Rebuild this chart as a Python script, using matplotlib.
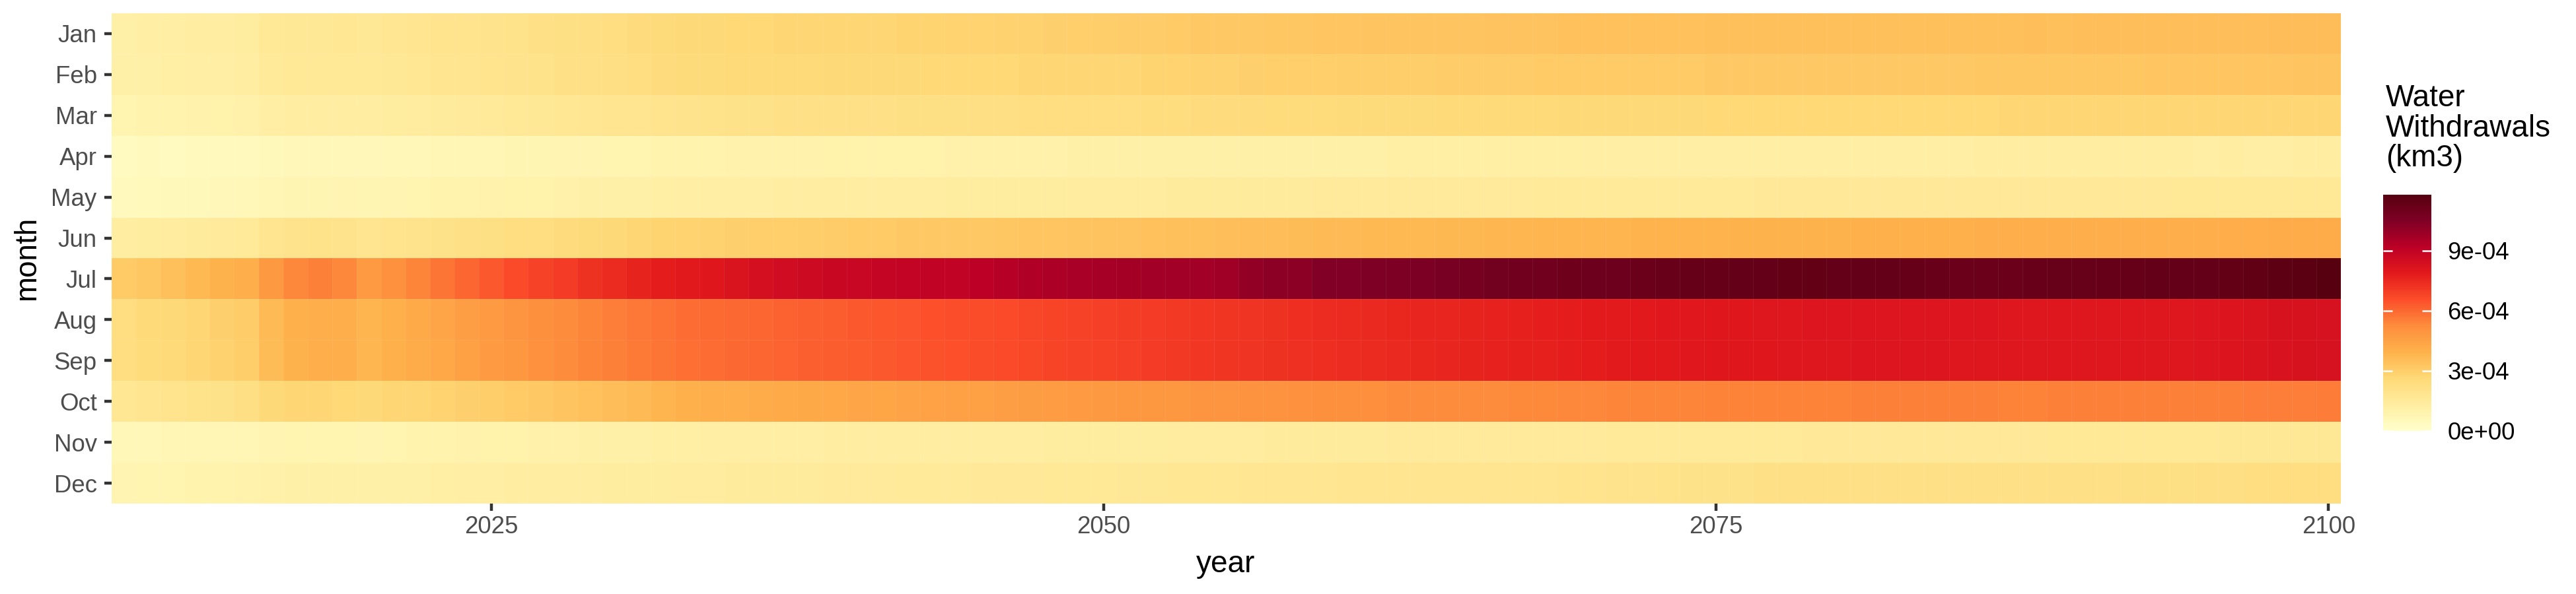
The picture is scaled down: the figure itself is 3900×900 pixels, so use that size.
import numpy as np
import matplotlib
matplotlib.use("Agg")
import matplotlib.pyplot as plt
from matplotlib.colors import LinearSegmentedColormap, Normalize

plt.rcParams['font.family'] = ['Liberation Sans', 'DejaVu Sans']

years = np.arange(2010, 2101)
months = ['Jan', 'Feb', 'Mar', 'Apr', 'May', 'Jun',
          'Jul', 'Aug', 'Sep', 'Oct', 'Nov', 'Dec']

# monthly water withdrawals per year, in 1e-5 km3 (rows: 2010-2032, 2033-2054, 2055-2077, 2078-2100)
jan = [11.5, 12, 12.3, 12.8, 13, 13.5, 16.5, 17, 17, 17.5, 17, 17.8, 18.3, 19, 19.2, 19.5, 20, 21, 22, 22.5, 23.5, 24, 25,
       26, 26.2, 26.4, 26.6, 26.8, 27, 27.2, 27.4, 27.6, 27.8, 28, 28.2, 28.4, 28.6, 29, 29.4, 29.8, 30.2, 30.5, 30.8, 31.2, 31.6,
       32, 32.2, 32.4, 32.6, 32.8, 33, 33.2, 33.3, 33.4, 33.5, 33.6, 33.8, 34, 34, 34.2, 34.2, 34.3, 34.4, 34.4, 34.5, 34.6, 34.6, 34.7,
       34.8, 34.8, 34.7, 34.8, 34.9, 34.8, 34.9, 35, 34.9, 35, 35.1, 35, 35.1, 35.2, 35.1, 35.2, 35.3, 35.2, 35.3, 35.4, 35.5, 35.5, 35.6]
feb = [11, 11.2, 11.6, 12, 12.3, 13, 15.5, 16.3, 16.3, 16.5, 16.3, 17, 17.5, 18, 18.3, 19, 19.5, 20, 21, 21.5, 22.5, 23.3, 24,
       25, 25.2, 25.4, 25.5, 25.6, 25.8, 26, 26, 26.1, 26.2, 26.3, 26.4, 26.5, 26.6, 26.8, 27, 27.2, 27.4, 27.6, 27.9, 28.2, 28.6,
       29, 29.3, 29.5, 29.7, 29.9, 30.1, 30.2, 30.3, 30.4, 30.5, 30.6, 30.7, 30.8, 30.9, 31, 31, 31.1, 31.2, 31.3, 31.3, 31.4, 31.5, 31.5,
       31.6, 31.7, 31.8, 31.9, 32, 32, 32.1, 32.2, 32.3, 32.3, 32.4, 32.5, 32.5, 32.6, 32.7, 32.8, 32.8, 32.9, 33, 33, 33.1, 33.2, 33.3]
mar = [8.5, 9, 9.2, 9.6, 10, 10.5, 12, 12.8, 12.8, 13.2, 12.8, 13.4, 14, 14.6, 15, 15.5, 16.2, 16.6, 17.2, 17.7, 18.2, 18.8, 19.3,
       19.8, 20.1, 20.4, 20.6, 20.8, 21, 21.2, 21.4, 21.6, 21.8, 22, 22.1, 22.2, 22.4, 22.6, 22.8, 23, 23.2, 23.4, 23.6, 23.8, 24,
       24.2, 24.4, 24.6, 24.7, 24.8, 25, 25.1, 25.2, 25.3, 25.4, 25.5, 25.6, 25.7, 25.8, 25.9, 26, 26, 26.1, 26.2, 26.2, 26.3, 26.3, 26.4,
       26.4, 26.5, 26.5, 26.6, 26.6, 26.6, 26.7, 26.7, 26.7, 26.8, 26.8, 26.8, 26.9, 26.9, 26.9, 27, 27, 27, 27.1, 27.1, 27.1, 27.2, 27.2]
apr = [4, 4.2, 4, 4.2, 4.3, 4.6, 5.5, 5.7, 5.7, 5.9, 5.7, 6.2, 6.4, 6.6, 6.9, 7.1, 7.4, 7.6, 7.9, 8.2, 8.5, 8.7, 9,
       9, 9.2, 9.3, 9.4, 9.5, 9.6, 9.7, 9.8, 9.9, 10, 10.1, 10.2, 10.3, 10.4, 10.5, 10.6, 10.7, 10.8, 10.9, 11, 11.1, 11.2,
       11.2, 11.3, 11.3, 11.4, 11.4, 11.5, 11.5, 11.6, 11.6, 11.7, 11.7, 11.8, 11.8, 11.9, 11.9, 12, 12, 12, 12.1, 12.1, 12.1, 12.2, 12.2,
       12.2, 12.3, 12.3, 12.3, 12.4, 12.4, 12.4, 12.4, 12.5, 12.5, 12.5, 12.5, 12.6, 12.6, 12.6, 12.6, 12.6, 12.4, 12.5, 12.2, 12.2, 12.8, 12.9]
may = [4.5, 4.7, 5.3, 5.5, 5.8, 6.2, 7.3, 7.6, 7.6, 8, 7.6, 8.2, 8.5, 8.8, 9.1, 9.4, 9.8, 10.1, 10.5, 10.8, 11.1, 11.4, 11.7,
       12, 12.1, 12.3, 12.4, 12.5, 12.7, 12.8, 12.9, 13, 13.1, 13.3, 13.4, 13.5, 13.6, 13.7, 13.8, 13.9, 14, 14.1, 14.2, 14.3, 14.4,
       14.5, 14.6, 14.6, 14.7, 14.8, 14.8, 14.9, 15, 15, 15.1, 15.1, 15.2, 15.2, 15.3, 15.3, 15.4, 15.4, 15.5, 15.5, 15.6, 15.6, 15.6, 15.7,
       15.7, 15.7, 15.8, 15.8, 15.8, 15.9, 15.9, 15.9, 16, 16, 16, 16, 16.1, 16.1, 16.1, 16.1, 16.2, 16.2, 16.2, 16.2, 16.2, 16.3, 16.3]
jun = [13.2, 13.8, 14, 14.6, 15, 15.5, 18.8, 19.5, 20, 19.5, 18.4, 19, 19.6, 20.7, 21.3, 22, 22.8, 23.5, 24.2, 25, 26, 26.8, 27.7,
       28.3, 28.7, 29.1, 29.5, 29.9, 30.3, 30.6, 30.9, 31.2, 31.5, 31.8, 32, 32.2, 32.5, 32.8, 33.1, 33.4, 33.7, 34, 34.3, 34.6, 35,
       35.3, 35.6, 35.9, 36.2, 36.5, 36.7, 36.9, 37.1, 37.3, 37.5, 37.7, 37.9, 38.1, 38.3, 38.5, 38.6, 38.7, 38.8, 38.9, 39, 39.1, 39.2, 39.3,
       39.4, 39.5, 39.6, 39.7, 39.8, 39.9, 40, 40.1, 40.2, 40.2, 40.3, 40.4, 40.5, 40.6, 40.7, 40.8, 40.9, 41, 41.1, 41.3, 41.5, 41.6, 41.7]
jul = [31, 32.5, 35, 37, 39.5, 40.7, 48, 53.5, 55, 53.5, 47.8, 51, 54, 57.5, 60.5, 63.5, 66.5, 68.5, 70.5, 72.5, 74.5, 76.5, 78,
       79, 80, 81.7, 83.5, 85.5, 86.3, 87.6, 88.3, 89, 89.6, 90, 90, 91.5, 92.7, 94.2, 95.2, 96.2, 96.7, 96.9, 97.4, 97.6, 97.6,
       98, 100.5, 102, 102.3, 104.5, 105, 105.5, 106, 106.3, 107, 108.3, 109, 109.7, 110, 110.4, 111, 111, 111.8, 112.4, 113, 113.2, 113.8, 113.8,
       114.2, 114.2, 113.8, 113.8, 113.4, 113, 112.4, 112, 112, 111.8, 112.4, 112.8, 112.8, 113, 113, 113.4, 113.8, 113.8, 114.2, 114.5, 115.3, 116.6, 118]
aug = [23.5, 25.5, 26, 27.5, 29.2, 30.6, 36.6, 40, 40.7, 40.5, 38.5, 40, 42, 43.5, 46.4, 47.8, 49.5, 51.3, 52.8, 54.3, 55.5, 56.8, 57.8,
       59, 59.6, 60.2, 60.8, 61.4, 62, 62.6, 63.2, 63.8, 64.4, 65, 65.6, 66.2, 66.8, 67.4, 68, 68.6, 69.2, 69.8, 70.3, 70.8, 71.3,
       71.8, 72.3, 72.8, 73.3, 73.8, 74.3, 74.8, 75.2, 75.6, 76, 76.4, 76.8, 77.2, 77.6, 78, 78.4, 78.8, 79.1, 79.4, 79.7, 80, 80.2, 80.4,
       80.6, 80.7, 80.8, 80.9, 81, 81, 80.9, 80.8, 80.7, 80.6, 80.6, 80.6, 80.5, 80.5, 80.5, 80.5, 80.5, 80.8, 81.5, 82, 82.6, 82.8, 83.2]
sep = [23, 24.5, 25.5, 27, 28.6, 30.2, 36, 39.6, 40.4, 40.2, 38.2, 39.8, 41.7, 43.2, 46, 47.5, 49.2, 51, 52.5, 54, 55.3, 56.6, 57.6,
       58.8, 59.4, 60, 60.6, 61.2, 61.8, 62.4, 63, 63.6, 64.2, 64.8, 65.4, 66, 66.6, 67.2, 67.8, 68.4, 69, 69.6, 70.1, 70.6, 71.1,
       71.6, 72.1, 72.6, 73.1, 73.6, 74.1, 74.6, 75, 75.4, 75.8, 76.2, 76.6, 77, 77.4, 77.8, 78.2, 78.6, 78.9, 79.2, 79.5, 79.8, 80, 80.2,
       80.4, 80.5, 80.6, 80.7, 80.8, 80.8, 80.7, 80.6, 80.5, 80.4, 80.4, 80.4, 80.3, 80.3, 80.3, 80.3, 80.4, 80.7, 81.3, 81.8, 82.4, 82.7, 83]
oct = [17.5, 18.3, 19, 20, 20.7, 22.5, 26, 27.2, 27.2, 26.5, 26, 26.8, 27.2, 28.3, 29.4, 30.4, 31.3, 32.2, 33.3, 34.5, 35.7, 36.6, 38.6,
       40, 40.5, 41, 41.5, 42, 42.5, 43, 43.5, 44, 44.5, 45, 45.5, 46, 46.4, 46.8, 47.2, 47.6, 48, 48.4, 48.8, 49.2, 49.6,
       50, 50.3, 50.6, 50.9, 51.2, 51.5, 51.8, 52.1, 52.4, 52.6, 52.8, 53, 53.2, 53.4, 53.6, 53.8, 54, 54.1, 54.2, 54.3, 54.4, 54.5, 54.6,
       54.7, 54.8, 54.8, 54.9, 54.9, 55, 55, 54.9, 54.9, 54.8, 54.8, 54.9, 55, 55, 55.1, 55.2, 55.2, 55.3, 55.3, 55.4, 55.5, 55.6, 55.8]
nov = [6.2, 6.4, 6.6, 6.8, 7, 7.2, 8, 8.3, 8.4, 8.4, 8.2, 8.6, 8.9, 9.2, 9.5, 9.8, 10, 10.3, 10.6, 10.9, 11.2, 11.4, 11.6,
       11.8, 12, 12.1, 12.2, 12.3, 12.4, 12.5, 12.6, 12.7, 12.8, 12.9, 13, 13.1, 13.2, 13.3, 13.4, 13.5, 13.6, 13.7, 13.8, 13.9, 14,
       14.1, 14.2, 14.3, 14.4, 14.5, 14.6, 14.7, 14.8, 14.8, 14.9, 15, 15, 15.1, 15.1, 15.2, 15.2, 15.3, 15.3, 15.4, 15.4, 15.5, 15.5, 15.6,
       15.6, 15.7, 15.7, 15.8, 15.8, 15.9, 15.9, 16, 16, 16.1, 16.1, 16.2, 16.2, 16.3, 16.3, 16.4, 16.4, 16.5, 16.6, 16.7, 16.8, 16.9, 17]
dec = [8, 8.3, 8.6, 8.9, 9.2, 9.5, 10.5, 11, 11.1, 11, 10.8, 11.2, 11.5, 11.8, 12.1, 12.4, 12.6, 12.8, 13, 13.2, 13.4, 13.6, 13.8,
       14, 14.1, 14.3, 14.4, 14.6, 14.7, 14.9, 15, 15.2, 15.3, 15.5, 15.6, 15.8, 15.9, 16.1, 16.2, 16.3, 16.5, 16.7, 16.9, 17.1, 17.3,
       17.5, 17.6, 17.7, 17.8, 17.9, 18, 18.1, 18.2, 18.3, 18.4, 18.5, 18.6, 18.7, 18.8, 18.9, 19.1, 19.4, 19.7, 20, 20.3, 20.5, 20.6, 20.8,
       20.9, 21, 21, 21.1, 21.1, 21.2, 21.2, 21.3, 21.3, 21.4, 21.4, 21.5, 21.5, 21.6, 21.7, 21.8, 22, 22.2, 22.4, 22.6, 22.8, 23, 23.2]

cbar_ticks = [0, 3e-4, 6e-4, 9e-4]
cbar_labels = ['0e+00', '3e-04', '6e-04', '9e-04']

withdrawals = np.array([jan, feb, mar, apr, may, jun, jul, aug, sep, oct, nov, dec]) * 1e-5

# YlOrRd, ending in a deeper maroon
colours = ['#FFFFCC', '#FFEDA0', '#FED976', '#FEB24C', '#FD8D3C',
           '#FC4E2A', '#E31A1C', '#BD0026', '#800026', '#570010']
cmap = LinearSegmentedColormap.from_list('ylorrd_deep', colours)
norm = Normalize(vmin=0, vmax=withdrawals.max())

W, H = 3900, 900
fig = plt.figure(figsize=(13, 3), dpi=300)
ax = fig.add_axes([169 / W, 1 - 763 / H, (3544 - 169) / W, (763 - 20) / H])

x_edges = np.append(years - 0.5, years[-1] + 0.5)
y_edges = np.arange(len(months) + 1) - 0.5
mesh = ax.pcolormesh(x_edges, y_edges, withdrawals, cmap=cmap, norm=norm,
                     edgecolors=(1, 1, 1, 0.07), linewidth=0.2)
ax.set_xlim(x_edges[0], x_edges[-1])
ax.set_ylim(y_edges[-1], y_edges[0])
ax.set_yticks(range(len(months)))
ax.set_yticklabels(months)
ax.set_xticks([2025, 2050, 2075, 2100])
for s in ax.spines.values():
    s.set_visible(False)
ax.tick_params(axis='both', length=2.75, width=1.07, color='#333333',
               labelsize=8.8, labelcolor='#4D4D4D')
ax.tick_params(axis='y', pad=2.6)
ax.tick_params(axis='x', pad=1.5)

fig.text(41 / W, 1 - 391 / H, 'month', rotation=90, ha='center', va='center', fontsize=11)
fig.text(1856 / W, 1 - 867 / H, 'year', ha='center', va='baseline', fontsize=11)

# colour bar legend
cax = fig.add_axes([3608 / W, 1 - 653 / H, 73 / W, 358 / H])
cb = fig.colorbar(mesh, cax=cax, ticks=cbar_ticks)
cb.ax.set_yticklabels(cbar_labels)
cb.outline.set_visible(False)
cax.tick_params(axis='y', direction='in', length=3.4, width=0.6, color='white',
                left=True, right=True, labelleft=False, labelright=True,
                labelsize=8.8, labelcolor='black', pad=5.8)
fig.text(3612 / W, 1 - 127 / H, 'Water\nWithdrawals\n(km3)', ha='left', va='top',
         fontsize=11, linespacing=1.05)

fig.savefig('out.png', dpi=300)
